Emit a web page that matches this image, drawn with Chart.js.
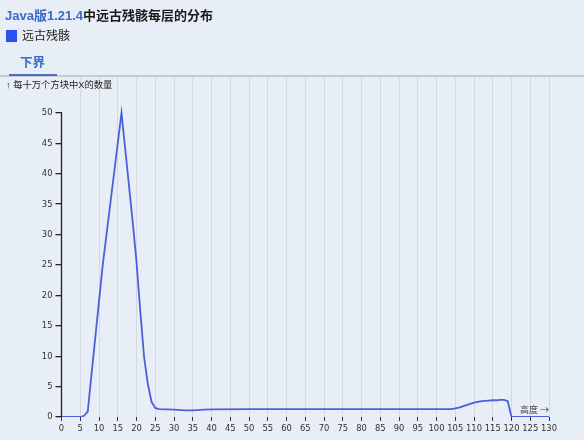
<!DOCTYPE html>
<html>
<head>
<meta charset="utf-8">
<script src="https://cdn.jsdelivr.net/npm/chart.js@4.4.1/dist/chart.umd.min.js"></script>
<style>
  html, body { margin: 0; padding: 0; background: #e8eef5; }
  #wrap { position: relative; width: 584px; height: 440px; background: #e8eef5; overflow: hidden;
          font-family: "Liberation Sans", "Noto Sans CJK SC", sans-serif; }
  #chart { position: absolute; left: 0; top: 0; }
  .title { position: absolute; left: 5px; top: 5px; font-size: 13px; font-weight: bold; color: #1a1a1a; white-space: nowrap; }
  .title .ver { color: #3b69c9; }
  .legend { position: absolute; left: 6px; top: 26px; font-size: 12px; color: #222; white-space: nowrap; }
  .legend .box { display: inline-block; width: 11px; height: 12px; background: #2b50ef; vertical-align: -2px; margin-right: 5px; }
  .tab { position: absolute; left: 20px; top: 52px; font-size: 12.5px; font-weight: bold; color: #3a6bcc; }
  .tabline { position: absolute; left: 0; top: 75px; width: 584px; height: 1.5px; background: #c6cbd2; }
  .tabsel { position: absolute; left: 9px; top: 73.5px; width: 48px; height: 2px; background: #4a6fc4; }
  .ytitle { position: absolute; left: 6px; top: 77px; font-size: 9.3px; color: #222; white-space: nowrap; z-index: 2; }
</style>
</head>
<body>
<div id="wrap">
  <canvas id="chart" width="584" height="440" style="width:584px;height:440px"></canvas>
  <div class="title"><span class="ver">Java版1.21.4</span>中远古残骸每层的分布</div>
  <div class="legend"><span class="box"></span>远古残骸</div>
  <div class="tab">下界</div>
  <div class="tabline"></div>
  <div class="tabsel"></div>
  <div class="ytitle">↑ 每十万个方块中X的数量</div>
</div>
<script>
// 数据（高度 / 每十万个方块中的数量）
const heights = [0, 5, 6, 7, 8, 9, 10, 11, 12, 13, 14, 15, 16, 17, 18, 19, 20, 21, 22, 23, 24, 25, 26, 28, 30, 33, 35, 38, 40,
  50, 60, 70, 80, 90, 100, 104, 105, 106, 107, 108, 109, 110, 111, 112, 113, 114, 115, 116, 117, 118, 119, 120, 125, 130];
const counts = [0, 0, 0.2, 0.9, 7, 13, 19, 25, 30, 35, 40, 45, 50, 44, 38, 32, 25.5, 17.5, 10, 5.5, 2.5, 1.5, 1.3, 1.25, 1.2, 1.1, 1.1, 1.2, 1.25,
  1.3, 1.3, 1.3, 1.3, 1.3, 1.3, 1.3, 1.4, 1.55, 1.75, 1.95, 2.15, 2.35, 2.5, 2.6, 2.65, 2.7, 2.75, 2.75, 2.8, 2.8, 2.6, 0, 0, 0];
const seriesName = '远古残骸';
const xTickStep = 5;
const yTickStep = 5;
const yTopTick = 50;
const xLabel = '高度 →';

const points = heights.map((h, i) => ({ x: h, y: counts[i] }));

const tickFont = { family: '"DejaVu Sans Condensed", "DejaVu Sans", sans-serif', size: 9.3 };

// y 轴线只画到 50，横轴说明文字
const axisPlugin = {
  id: 'axisExtras',
  afterDraw(chart) {
    const { ctx, chartArea, scales } = chart;
    const y = scales.y;
    ctx.save();
    ctx.strokeStyle = '#222';
    ctx.lineWidth = 1.3;
    ctx.beginPath();
    ctx.moveTo(chartArea.left, y.getPixelForValue(yTopTick));
    ctx.lineTo(chartArea.left, y.getPixelForValue(0));
    ctx.stroke();

    ctx.fillStyle = '#444';
    ctx.font = '9px "Noto Sans CJK SC", sans-serif';
    ctx.textAlign = 'right';
    ctx.textBaseline = 'middle';
    ctx.fillText(xLabel, chartArea.right, chartArea.bottom - 7);
    ctx.restore();
  }
};

const chart = new Chart(document.getElementById('chart'), {
  type: 'line',
  data: {
    datasets: [{
      label: seriesName,
      data: points,
      borderColor: '#4c5fdc',
      borderWidth: 1.8,
      pointRadius: 0,
      tension: 0,
      fill: false
    }]
  },
  options: {
    responsive: false,
    animation: false,
    layout: { padding: { top: 77, right: 35, bottom: 0, left: 0 } },
    plugins: { legend: { display: false }, tooltip: { enabled: false } },
    scales: {
      x: {
        type: 'linear',
        min: 0,
        max: 130,
        afterFit(scale) { scale.height = 23; },
        border: { display: false },
        grid: {
          color: ctx => (ctx.tick && ctx.tick.value === 0 ? 'rgba(0,0,0,0)' : '#d3d9e1'),
          tickColor: '#333',
          tickLength: 4,
          lineWidth: 1
        },
        ticks: {
          stepSize: xTickStep,
          autoSkip: false,
          maxRotation: 0,
          color: '#333',
          padding: 2,
          font: tickFont
        }
      },
      y: {
        min: 0,
        max: 55.9,
        afterFit(scale) { scale.width = 61.5; },
        afterBuildTicks(scale) { scale.ticks = scale.ticks.filter(t => t.value <= yTopTick); },
        border: { display: false },
        grid: {
          drawOnChartArea: false,
          color: '#222',
          tickLength: 6,
          lineWidth: 1.3
        },
        ticks: {
          stepSize: yTickStep,
          color: '#333',
          padding: 3,
          font: tickFont
        }
      }
    }
  },
  plugins: [axisPlugin]
});
</script>
</body>
</html>
